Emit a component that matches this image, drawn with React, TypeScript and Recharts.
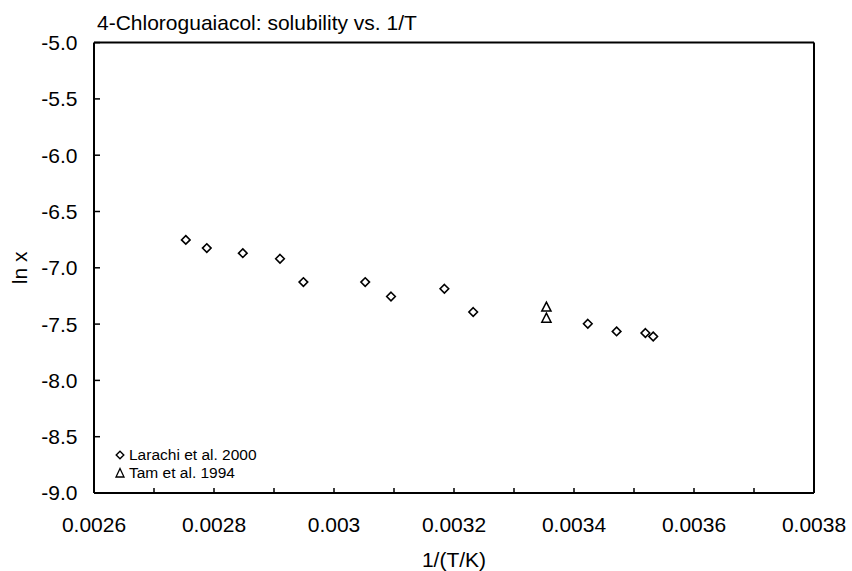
import React from "react";
import {
  ScatterChart,
  Scatter,
  XAxis,
  YAxis,
  ReferenceLine,
  Legend,
  Label,
} from "recharts";

// Larachi et al. 2000
const larachiX = [
  0.002753, 0.002788, 0.002848, 0.00291, 0.002949, 0.003052, 0.003095,
  0.003184, 0.003232, 0.003423, 0.003471, 0.003519, 0.003532,
];
const larachiY = [
  -6.752, -6.825, -6.87, -6.92, -7.127, -7.127, -7.255, -7.186, -7.393,
  -7.497, -7.565, -7.579, -7.61,
];

// Tam et al. 1994
const tamX = [0.003354, 0.003354];
const tamY = [-7.349, -7.447];

const xTicks = [0.0026, 0.0028, 0.003, 0.0032, 0.0034, 0.0036, 0.0038];
const xTickLabels = ["0.0026", "0.0028", "0.003", "0.0032", "0.0034", "0.0036", "0.0038"];
const xMinorTicks = [0.0027, 0.0029, 0.0031, 0.0033, 0.0035, 0.0037];
const yTicks = [-9, -8.5, -8, -7.5, -7, -6.5, -6, -5.5, -5];

const larachiData = larachiX.map((x, i) => ({ x, y: larachiY[i] }));
const tamData = tamX.map((x, i) => ({ x, y: tamY[i] }));
const allXTicks = [...xTicks, ...xMinorTicks].sort((a, b) => a - b);

const FONT = "'Liberation Sans', Arial, sans-serif";

const diamondPath = (cx: number, cy: number, r = 4.3) =>
  `M${cx},${cy - r} L${cx + r},${cy} L${cx},${cy + r} L${cx - r},${cy} Z`;

const trianglePath = (cx: number, cy: number) =>
  `M${cx},${cy - 5} L${cx + 4.6},${cy + 4} L${cx - 4.6},${cy + 4} Z`;

const Diamond = (props: any) => (
  <path d={diamondPath(props.cx, props.cy)} fill="#fff" stroke="#000" strokeWidth={1.6} />
);

const Triangle = (props: any) => (
  <path d={trianglePath(props.cx, props.cy)} fill="none" stroke="#000" strokeWidth={1.5} />
);

const XTick = (props: any) => {
  const { x, y, payload } = props;
  const idx = xTicks.findIndex((t) => Math.abs(t - payload.value) < 1e-9);
  return (
    <g>
      <line x1={x} x2={x} y1={y} y2={y - 5} stroke="#000" strokeWidth={1.5} />
      {idx >= 0 && (
        <text x={x} y={y + 31.5} dy="0.355em" textAnchor="middle" fontSize={21} fill="#000" fontFamily={FONT}>
          {xTickLabels[idx]}
        </text>
      )}
    </g>
  );
};

const YTick = (props: any) => {
  const { x, y, payload } = props;
  return (
    <g>
      <line x1={x} x2={x + 6} y1={y} y2={y} stroke="#000" strokeWidth={1.5} />
      <text x={x - 16.5} y={y} dy="0.355em" textAnchor="end" fontSize={21} fill="#000" fontFamily={FONT}>
        {payload.value.toFixed(1)}
      </text>
    </g>
  );
};

const renderLegend = () => (
  <div style={{ fontFamily: FONT, fontSize: 15.5, color: "#000" }}>
    <div style={{ display: "flex", alignItems: "center", height: 18 }}>
      <svg width={12} height={12} style={{ marginRight: 3 }}>
        <path d={diamondPath(6, 6, 3.8)} fill="#fff" stroke="#000" strokeWidth={1.4} />
      </svg>
      <span>Larachi et al. 2000</span>
    </div>
    <div style={{ display: "flex", alignItems: "center", height: 18 }}>
      <svg width={12} height={12} style={{ marginRight: 3 }}>
        <path d="M6,1.5 L10,10 L2,10 Z" fill="none" stroke="#000" strokeWidth={1.3} />
      </svg>
      <span>Tam et al. 1994</span>
    </div>
  </div>
);

export default function App() {
  return (
    <div style={{ position: "relative", width: 852, height: 571, fontFamily: FONT, overflow: "hidden" }}>
      <style>{"body { margin: 0; overflow: hidden; }"}</style>
      <div
        style={{
          position: "absolute",
          left: 97,
          top: 12,
          fontSize: 21,
          lineHeight: "21px",
          color: "#000",
          whiteSpace: "nowrap",
        }}
      >
        4-Chloroguaiacol: solubility vs. 1/T
      </div>
      <ScatterChart width={852} height={571} margin={{ top: 42.6, right: 38, bottom: 0, left: 8 }}>
        <XAxis
          type="number"
          dataKey="x"
          domain={[0.0026, 0.0038]}
          ticks={allXTicks}
          interval={0}
          allowDataOverflow
          tickSize={0}
          tickMargin={0}
          tickLine={false}
          axisLine={{ stroke: "#000", strokeWidth: 2 }}
          tick={<XTick />}
          height={78}
        >
          <Label
            content={(p: any) => {
              const vb = p.viewBox;
              return (
                <text
                  x={vb.x + vb.width / 2}
                  y={vb.y + 67}
                  dy="0.355em"
                  textAnchor="middle"
                  fontSize={21}
                  fill="#000"
                  fontFamily={FONT}
                >
                  1/(T/K)
                </text>
              );
            }}
          />
        </XAxis>
        <YAxis
          type="number"
          dataKey="y"
          domain={[-9, -5]}
          ticks={yTicks}
          interval={0}
          allowDataOverflow
          tickSize={0}
          tickMargin={0}
          tickLine={false}
          axisLine={{ stroke: "#000", strokeWidth: 2 }}
          tick={<YTick />}
          width={86}
        >
          <Label
            content={(p: any) => {
              const vb = p.viewBox;
              const cy = vb.y + vb.height / 2;
              return (
                <text
                  x={20}
                  y={cy}
                  dy="0.355em"
                  textAnchor="middle"
                  fontSize={21}
                  fill="#000"
                  fontFamily={FONT}
                  transform={`rotate(-90 20 ${cy})`}
                >
                  ln x
                </text>
              );
            }}
          />
        </YAxis>
        <ReferenceLine y={-5} stroke="#000" strokeWidth={2} />
        <ReferenceLine x={0.0038} stroke="#000" strokeWidth={2} />
        <Legend
          layout="horizontal"
          verticalAlign="middle"
          align="center"
          content={renderLegend}
          wrapperStyle={{ position: "absolute", left: 114, top: 446, width: "auto" }}
        />
        <Scatter name="Larachi et al. 2000" data={larachiData} shape={Diamond} isAnimationActive={false} />
        <Scatter name="Tam et al. 1994" data={tamData} shape={Triangle} isAnimationActive={false} />
      </ScatterChart>
    </div>
  );
}
